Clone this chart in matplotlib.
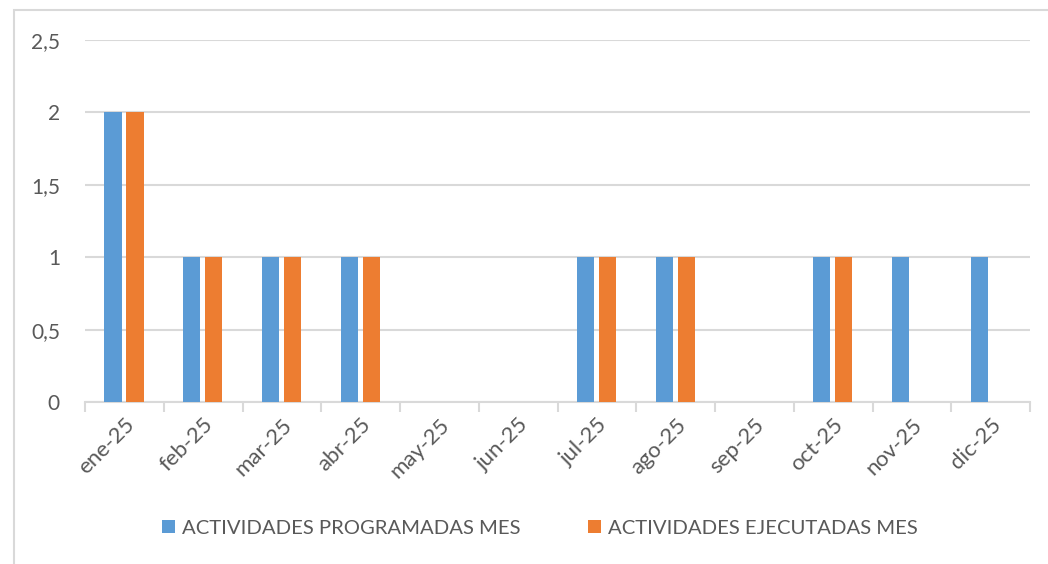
import matplotlib
matplotlib.use("Agg")
import matplotlib.pyplot as plt
from matplotlib.patches import Rectangle
import numpy as np

categories = ["ene-25", "feb-25", "mar-25", "abr-25", "may-25", "jun-25",
              "jul-25", "ago-25", "sep-25", "oct-25", "nov-25", "dic-25"]
programadas = [2, 1, 1, 1, 0, 0, 1, 1, 0, 1, 1, 1]
ejecutadas = [2, 1, 1, 1, 0, 0, 1, 1, 0, 1, 0, 0]
yticks = [0, 0.5, 1, 1.5, 2, 2.5]
ytick_labels = ["0", "0,5", "1", "1,5", "2", "2,5"]
series_names = ["ACTIVIDADES PROGRAMADAS MES", "ACTIVIDADES EJECUTADAS MES"]

plt.rcParams['font.family'] = ['Lato', 'DejaVu Sans']
text_color = "#595959"
grid_color = "#d9d9d9"

fig = plt.figure(figsize=(10.48, 5.64), dpi=100)
ax = fig.add_axes([85/1048, 1-402/564, (1030-85)/1048, (402-40)/564])

x = np.arange(len(categories))
w = 0.22
ax.bar(x - 0.145, programadas, width=w, color="#5B9BD5", label=series_names[0], zorder=3)
ax.bar(x + 0.135, ejecutadas, width=w, color="#ED7D31", label=series_names[1], zorder=3)

ax.set_xlim(-0.5, len(categories) - 0.5)
ax.set_ylim(0, 2.5)
ax.set_yticks(yticks)
ax.set_yticklabels(ytick_labels)
ax.yaxis.grid(True, color=grid_color, linewidth=1.5, zorder=0)
ax.tick_params(axis='y', length=0, pad=18, labelsize=15, labelcolor=text_color)

ax.set_xticks(x)
ax.set_xticklabels(categories, rotation=45, ha='right', rotation_mode='anchor')
ax.tick_params(axis='x', which='major', length=0, pad=9, labelsize=16, labelcolor=text_color)
ax.set_xticks(np.arange(-0.5, len(categories), 1), minor=True)
ax.tick_params(axis='x', which='minor', length=7, width=1.5, color=grid_color)

for s in ['top', 'right', 'left']:
    ax.spines[s].set_visible(False)
ax.spines['bottom'].set_color(grid_color)
ax.spines['bottom'].set_linewidth(1.5)

leg = fig.legend(loc='center', bbox_to_anchor=(540/1048, 1-528/564), ncol=2, frameon=False,
                 fontsize=14.6, handlelength=0.65, handleheight=0.65, columnspacing=3.3,
                 handletextpad=0.35)
for t in leg.get_texts():
    t.set_color(text_color)

fig.patches.append(Rectangle((14/1048, -0.1), 1.2, 1 - 10/564 + 0.1, transform=fig.transFigure,
                             fill=False, edgecolor=grid_color, linewidth=1.5))

fig.savefig("out.png", dpi=100)
